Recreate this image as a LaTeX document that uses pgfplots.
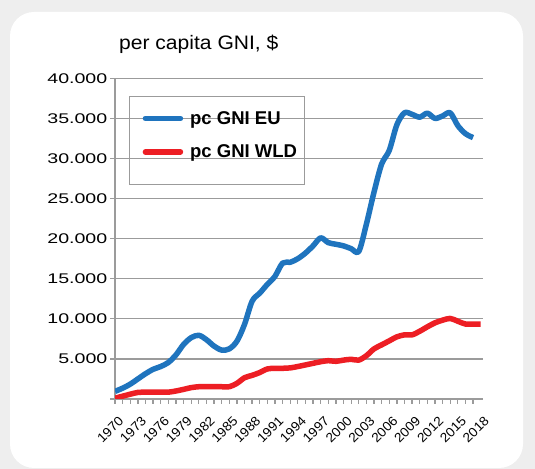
\documentclass[border=0pt]{standalone}
\usepackage{fontspec}
\setmainfont{Liberation Sans}
\newfontfamily\tickfont{Liberation Sans}[FakeStretch=1.4]
\newfontfamily\xtickfont{Liberation Sans}[FakeStretch=1.06]
\newfontfamily\titlefont{Liberation Sans}[FakeStretch=1.08]
\usepackage{pgfplots}
\pgfplotsset{compat=1.18}
\definecolor{eublue}{RGB}{31,116,190}
\definecolor{wldred}{RGB}{237,30,36}
\definecolor{gridgray}{RGB}{155,155,155}
\definecolor{bggray}{RGB}{238,238,238}

\pgfplotstableread{
year val
1970 950
1971 1350
1972 1850
1973 2500
1974 3150
1975 3700
1976 4050
1977 4550
1978 5500
1979 6800
1980 7650
1981 7950
1982 7400
1983 6600
1984 6100
1985 6250
1986 7200
1987 9300
1988 12200
1989 13200
1990 14300
1991 15300
1992 16950
1993 17050
1994 17500
1995 18200
1996 19100
1997 20100
1998 19500
1999 19300
2000 19100
2001 18750
2002 18400
2003 21800
2004 25800
2005 29300
2006 31000
2007 34200
2008 35700
2009 35500
2010 35150
2011 35650
2012 35000
2013 35300
2014 35700
2015 34100
2016 33100
2017 32600
}\eudata

\pgfplotstableread{
year val
1970 100
1971 350
1972 600
1973 820
1974 850
1975 850
1976 850
1977 850
1978 1000
1979 1200
1980 1420
1981 1530
1982 1530
1983 1530
1984 1530
1985 1530
1986 1950
1987 2650
1988 2950
1989 3300
1990 3750
1991 3830
1992 3830
1993 3880
1994 4050
1995 4250
1996 4450
1997 4650
1998 4780
1999 4700
2000 4850
2001 4950
2002 4850
2003 5400
2004 6250
2005 6750
2006 7250
2007 7750
2008 8000
2009 8000
2010 8450
2011 9000
2012 9500
2013 9830
2014 10050
2015 9700
2016 9350
2017 9350
2018 9350
}\wlddata

\begin{document}
\begin{tikzpicture}[x=1bp,y=1bp]
\fill[bggray] (0,0) rectangle (535,469);
\fill[white, rounded corners=24bp] (10,1) rectangle (523,457);
\node[anchor=base west, font=\titlefont\fontsize{19.5bp}{22bp}\selectfont, inner sep=0pt] at (119,419) {per capita GNI, \$};
\begin{axis}[
  scale only axis, width=368bp, height=320.7bp,
  at={(115bp,70bp)}, anchor=south west,
  xmin=1970, xmax=2018.31, ymin=0, ymax=40000,
  scaled y ticks=false,
  axis x line*=bottom, axis y line*=left,
  axis line style={draw=gridgray, line width=1.3bp},
  ymajorgrids, grid style={draw=gridgray, line width=1.3bp},
  tick align=outside, major tick length=5bp, minor tick length=5bp,
  tick style={draw=gridgray, line width=1.3bp},
  xtick={1970,1973,...,2018},
  xticklabels={1970,1973,1976,1979,1982,1985,1988,1991,1994,1997,2000,2003,2006,2009,2012,2015,2018},
  xtick style={draw=none},
  minor xtick={1970,1971,...,2017},
  minor x tick style={draw=gridgray, line width=1.3bp},
  xticklabel style={font=\xtickfont\fontsize{13bp}{15bp}\selectfont, rotate=45, anchor=north east, inner sep=1bp, yshift=-9bp, xshift=-5bp},
  ytick={0,5000,...,40000},
  yticklabels={,5.000,10.000,15.000,20.000,25.000,30.000,35.000,40.000},
  yticklabel style={font=\tickfont\fontsize{14bp}{16bp}\selectfont, inner sep=2.5bp},
  legend style={draw=none, fill=none, at={(axis description cs:0.0747,0.904)}, anchor=north west,
    inner xsep=0bp, inner ysep=0bp, font=\bfseries\fontsize{18.5bp}{20bp}\selectfont,
    row sep=15bp, cells={anchor=west}, /tikz/every odd column/.append style={column sep=5bp}},
  legend image code/.code={\draw[#1, line cap=round] (0bp,0bp) -- (35bp,0bp);},
]
\addplot[eublue, line width=5.5bp, smooth, line join=round] table[x=year, y=val] {\eudata};
\addlegendentry{pc GNI EU}
\addplot[wldred, line width=5.5bp, smooth, line join=round] table[x=year, y=val] {\wlddata};
\addlegendentry{pc GNI WLD}
\end{axis}
\draw[gridgray, line width=1bp] (129,284) rectangle (304,372);
\end{tikzpicture}
\end{document}
